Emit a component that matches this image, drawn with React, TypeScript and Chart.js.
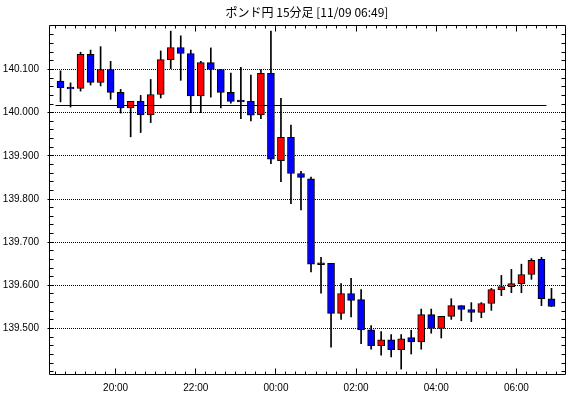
import React, { useEffect, useRef } from "react";
import { Chart, registerables } from "chart.js";

Chart.register(...registerables);

const titleText = "ポンド円 15分足 [11/09 06:49]";

const times = [
  "18:30", "18:45", "19:00", "19:15", "19:30", "19:45", "20:00", "20:15", "20:30", "20:45",
  "21:00", "21:15", "21:30", "21:45", "22:00", "22:15", "22:30", "22:45", "23:00", "23:15",
  "23:30", "23:45", "00:00", "00:15", "00:30", "00:45", "01:00", "01:15", "01:30", "01:45",
  "02:00", "02:15", "02:30", "02:45", "03:00", "03:15", "03:30", "03:45", "04:00", "04:15",
  "04:30", "04:45", "05:00", "05:15", "05:30", "05:45", "06:00", "06:15", "06:30", "06:45",
];

const opens = [
  140.073, 140.059, 140.056, 140.135, 140.070, 140.100, 140.047, 140.011, 140.026, 139.995,
  140.042, 140.123, 140.151, 140.137, 140.039, 140.116, 140.100, 140.047, 140.029, 140.026,
  139.995, 140.091, 139.889, 139.943, 139.859, 139.847, 139.652, 139.651, 139.535, 139.581,
  139.567, 139.497, 139.460, 139.474, 139.451, 139.479, 139.469, 139.532, 139.500, 139.528,
  139.553, 139.544, 139.537, 139.558, 139.590, 139.597, 139.604, 139.625, 139.660, 139.569,
];
const highs = [
  140.097, 140.069, 140.140, 140.145, 140.153, 140.119, 140.054, 140.026, 140.040, 140.077,
  140.143, 140.189, 140.178, 140.145, 140.119, 140.150, 140.100, 140.092, 140.105, 140.087,
  140.100, 140.189, 140.033, 139.971, 139.864, 139.851, 139.665, 139.651, 139.604, 139.616,
  139.590, 139.507, 139.493, 139.486, 139.486, 139.496, 139.545, 139.545, 139.528, 139.569,
  139.553, 139.560, 139.560, 139.593, 139.623, 139.637, 139.649, 139.662, 139.665, 139.593,
];
const lows = [
  140.025, 140.013, 140.050, 140.064, 140.062, 140.031, 139.999, 139.944, 139.954, 139.977,
  140.034, 140.102, 140.075, 140.000, 140.000, 140.036, 140.011, 140.022, 139.986, 139.981,
  139.986, 139.882, 139.840, 139.789, 139.775, 139.631, 139.582, 139.457, 139.521, 139.527,
  139.465, 139.452, 139.438, 139.434, 139.406, 139.441, 139.452, 139.489, 139.478, 139.521,
  139.518, 139.516, 139.525, 139.542, 139.576, 139.583, 139.583, 139.614, 139.553, 139.551,
];
const closes = [
  140.058, 140.055, 140.135, 140.070, 140.100, 140.047, 140.011, 140.026, 139.995, 140.042,
  140.123, 140.151, 140.137, 140.039, 140.116, 140.100, 140.047, 140.026, 140.025, 139.994,
  140.091, 139.892, 139.943, 139.859, 139.850, 139.649, 139.648, 139.535, 139.581, 139.565,
  139.497, 139.460, 139.474, 139.451, 139.476, 139.469, 139.532, 139.500, 139.528, 139.553,
  139.544, 139.537, 139.558, 139.590, 139.597, 139.604, 139.625, 139.658, 139.569, 139.551,
];

const refLevel = 140.0166;
const refFrom = "18:30";
const refTo = "06:45";

const yTickValues = [139.5, 139.6, 139.7, 139.8, 139.9, 140.0, 140.1];
const xTickLabels = ["20:00", "22:00", "00:00", "02:00", "04:00", "06:00"];

const yMin = 139.3946;
const yMax = 140.2031;
const yMinorStep = 0.02;
const xMin = -9.75;
const xMax = 762.75;
const candleMinutes = 15;

const toMinutes = (t: string) => {
  const [h, m] = t.split(":").map(Number);
  let mins = h * 60 + m - (18 * 60 + 30);
  if (mins < 0) mins += 24 * 60;
  return mins;
};

const UP = "#ff0000";
const DOWN = "#0000ff";
const LABEL_FONT = { family: '"Liberation Sans", Arial, sans-serif', size: 10, weight: "normal" as const };

const framePlugin = {
  id: "frameTicks",
  beforeDatasetsDraw(chart: any) {
    const { ctx, chartArea: a, scales } = chart;
    const y = scales.y;
    ctx.save();
    ctx.strokeStyle = "#000";
    ctx.lineWidth = 1;
    ctx.setLineDash([1, 1]);
    for (const v of yTickValues) {
      const py = Math.round(y.getPixelForValue(v) - 0.5) + 0.5;
      ctx.beginPath();
      ctx.moveTo(a.left, py);
      ctx.lineTo(a.right, py);
      ctx.stroke();
    }
    ctx.restore();
  },
  afterDatasetsDraw(chart: any) {
    const { ctx, chartArea: a, scales } = chart;
    const x = scales.x;
    const y = scales.y;
    ctx.save();
    ctx.strokeStyle = "#000";
    ctx.lineWidth = 1;
    ctx.setLineDash([]);
    const L = a.left + 0.5;
    const R = Math.round(a.right) + 0.5;
    const T = a.top + 0.5;
    const B = Math.round(a.bottom) + 0.5;
    ctx.beginPath();
    ctx.rect(L, T, R - L, B - T);
    ctx.stroke();

    // y minor / major ticks (left and right, pointing inward)
    ctx.beginPath();
    const nY = Math.round((yMax - yMin) / yMinorStep) + 2;
    const startY = Math.ceil(yMin / yMinorStep) * yMinorStep;
    for (let i = 0; i < nY; i++) {
      const v = startY + i * yMinorStep;
      if (v > yMax) break;
      const py = Math.round(y.getPixelForValue(v) - 0.5) + 0.5;
      if (py <= T + 1 || py >= B - 1) continue;
      const isMajor = yTickValues.some((t) => Math.abs(t - v) < 1e-6);
      ctx.moveTo(isMajor ? L - 2 : L, py);
      ctx.lineTo(L + 4, py);
      ctx.moveTo(R - 4, py);
      ctx.lineTo(R, py);
    }
    // x ticks (top and bottom, inward)
    const majors = xTickLabels.map(toMinutes);
    const minors = times.map(toMinutes);
    minors.push(toMinutes(times[times.length - 1]) + candleMinutes);
    for (const m of minors) {
      const px = Math.floor(x.getPixelForValue(m)) + 0.5;
      if (px <= L || px >= R) continue;
      const isMajor = majors.includes(m);
      const len = isMajor ? 6 : 3;
      ctx.moveTo(px, T);
      ctx.lineTo(px, T + len);
      ctx.moveTo(px, B);
      ctx.lineTo(px, B - len);
    }
    ctx.stroke();
    ctx.restore();
  },
};

export default function App() {
  const canvasRef = useRef<HTMLCanvasElement | null>(null);

  useEffect(() => {
    if (!canvasRef.current) return;
    const xs = times.map((t) => toMinutes(t) + candleMinutes / 2);
    const chart = new Chart(canvasRef.current, {
      type: "bar",
      data: {
        datasets: [
          {
            type: "line",
            data: [
              { x: toMinutes(refFrom), y: refLevel },
              { x: toMinutes(refTo), y: refLevel },
            ],
            borderColor: "#000",
            borderWidth: 1,
            pointRadius: 0,
            fill: false,
          } as any,
          {
            type: "bar",
            data: opens.map((o, i) => ({ x: xs[i], y: [o, closes[i]] })),
            backgroundColor: opens.map((o, i) => (closes[i] >= o ? UP : DOWN)),
            borderColor: "#000",
            borderWidth: 1,
            borderSkipped: false,
            barThickness: 7,
            grouped: false,
          } as any,
          {
            type: "bar",
            data: lows.map((l, i) => ({ x: xs[i], y: [l, highs[i]] })),
            backgroundColor: "#000",
            borderWidth: 0,
            barThickness: 1,
            grouped: false,
          } as any,
        ],
      },
      options: {
        responsive: false,
        animation: false,
        events: [],
        layout: { padding: { left: 0, right: 5, top: 0, bottom: 0 } },
        plugins: {
          legend: { display: false },
          tooltip: { enabled: false },
          title: {
            display: true,
            text: titleText,
            fullSize: false,
            color: "#000",
            font: { family: '"Noto Sans CJK JP", sans-serif', size: 12, weight: "normal", lineHeight: 1.2 },
            padding: { top: 5, bottom: 5.6 },
          },
        },
        scales: {
          x: {
            type: "linear",
            min: xMin,
            max: xMax,
            offset: false,
            grid: { display: false, offset: false },
            border: { display: false },
            afterBuildTicks: (s: any) => {
              s.ticks = xTickLabels.map((t) => ({ value: toMinutes(t) }));
            },
            afterFit: (s: any) => {
              s.height = 24;
            },
            ticks: {
              autoSkip: false,
              maxRotation: 0,
              padding: 0,
              color: "#000",
              font: LABEL_FONT,
              callback: (_v: any, i: number) => xTickLabels[i],
            },
          },
          y: {
            type: "linear",
            min: yMin,
            max: yMax,
            grid: { display: false },
            border: { display: false },
            afterBuildTicks: (s: any) => {
              s.ticks = yTickValues.map((v) => ({ value: v }));
            },
            afterFit: (s: any) => {
              s.width = 49;
            },
            ticks: {
              padding: 2,
              color: "#000",
              font: LABEL_FONT,
              callback: (v: any) => Number(v).toFixed(3),
            },
          },
        },
      } as any,
      plugins: [framePlugin],
    });
    return () => chart.destroy();
  }, []);

  return (
    <div style={{ position: "absolute", left: 0, top: 0, width: 570, height: 398, background: "#fff" }}>
      <canvas ref={canvasRef} width={570} height={398} style={{ display: "block" }} />
    </div>
  );
}
